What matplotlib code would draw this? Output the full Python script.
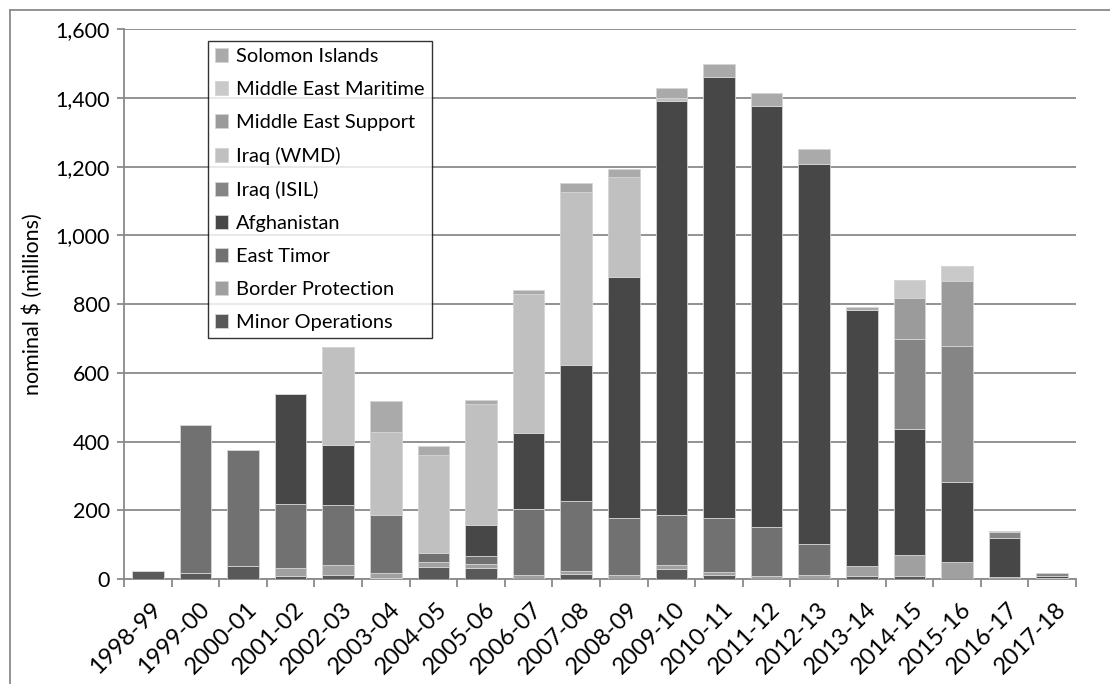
import matplotlib
matplotlib.use("Agg")
import matplotlib.pyplot as plt
import matplotlib.transforms as mtransforms
from matplotlib.lines import Line2D
from matplotlib.ticker import FuncFormatter, FixedLocator
import numpy as np

plt.rcParams['font.family'] = ['Lato', 'DejaVu Sans']

years = ["1998-99", "1999-00", "2000-01", "2001-02", "2002-03", "2003-04",
         "2004-05", "2005-06", "2006-07", "2007-08", "2008-09", "2009-10",
         "2010-11", "2011-12", "2012-13", "2013-14", "2014-15", "2015-16",
         "2016-17", "2017-18"]

# nominal $ millions, per operation (stacked bottom to top)
minor_operations = [22, 17, 39, 9, 12, 3, 36, 31, 0, 15, 0, 28, 12, 0, 0, 9, 9, 0, 0, 0]
border_protection = [0, 0, 0, 23, 29, 15, 13, 12, 12, 9, 12, 13, 8, 9, 12, 29, 60, 49, 5, 2]
east_timor = [0, 431, 336, 186, 174, 168, 26, 24, 193, 204, 166, 145, 157, 141, 90, 0, 0, 0, 0, 0]
afghanistan = [0, 0, 0, 321, 175, 0, 0, 90, 220, 395, 701, 1204, 1284, 1227, 1105, 745, 367, 234, 115, 6]
iraq_isil = [0, 0, 0, 0, 0, 0, 0, 0, 0, 0, 0, 0, 0, 0, 0, 0, 263, 394, 18, 9]
iraq_wmd = [0, 0, 0, 0, 285, 243, 286, 352, 404, 503, 292, 10, 0, 0, 0, 0, 0, 0, 0, 0]
middle_east_support = [0, 0, 0, 0, 0, 0, 0, 0, 0, 0, 0, 0, 0, 0, 0, 0, 118, 189, 3, 0]
middle_east_maritime = [0, 0, 0, 0, 0, 0, 0, 0, 0, 0, 0, 0, 0, 0, 0, 0, 52, 44, 0, 0]
solomon_islands = [0, 0, 0, 0, 0, 89, 27, 12, 12, 26, 23, 30, 38, 39, 46, 9, 0, 0, 0, 0]

series = [
    ("Minor Operations", minor_operations, "#595959"),
    ("Border Protection", border_protection, "#a0a0a0"),
    ("East Timor", east_timor, "#717171"),
    ("Afghanistan", afghanistan, "#474747"),
    ("Iraq (ISIL)", iraq_isil, "#858585"),
    ("Iraq (WMD)", iraq_wmd, "#c0c0c0"),
    ("Middle East Support", middle_east_support, "#9b9b9b"),
    ("Middle East Maritime", middle_east_maritime, "#c9c9c9"),
    ("Solomon Islands", solomon_islands, "#aaaaaa"),
]

W, H = 1110, 684
fig = plt.figure(figsize=(W / 100, H / 100), dpi=100)
ax = fig.add_axes([124 / W, 1 - 579 / H, (1076 - 124) / W, (579 - 29.3) / H])

x = np.arange(len(years))
bottom = np.zeros(len(years))
handles = []
for name, vals, color in series:
    v = np.array(vals, dtype=float)
    bars = ax.bar(x, v, width=0.66, bottom=bottom, color=color,
                  edgecolor="#d4d4d4", linewidth=0.6, label=name, zorder=3)
    handles.append(bars)
    bottom += v

grid_c = "#8a8a8a"
ax.set_ylim(0, 1600)
ax.set_xlim(-0.5, len(years) - 0.5)
ax.set_yticks(np.arange(0, 1601, 200))
ax.yaxis.set_major_formatter(FuncFormatter(lambda v, p: f"{int(v):,}"))
ax.yaxis.grid(True, color=grid_c, linewidth=1.3, zorder=0)
ax.set_axisbelow(True)

for s in ("top", "right"):
    ax.spines[s].set_visible(False)
for s in ("left", "bottom"):
    ax.spines[s].set_color(grid_c)
    ax.spines[s].set_linewidth(1.3)

ax.tick_params(axis="y", length=5, color=grid_c, width=1.3, labelsize=15.5, pad=5)
ax.set_xticks(x)
ax.set_xticklabels(years, rotation=45, ha="right", va="top", fontsize=17)
ax.tick_params(axis="x", which="major", length=0, pad=14)
ax.xaxis.set_minor_locator(FixedLocator(np.arange(-0.5, len(years), 1.0)))
ax.tick_params(axis="x", which="minor", length=6, color=grid_c, width=1.3)
shift = mtransforms.ScaledTranslation(18 / 100, 0, fig.dpi_scale_trans)
for lbl in ax.get_xticklabels():
    lbl.set_transform(lbl.get_transform() + shift)

ax.set_ylabel("nominal $ (millions)", fontsize=15.5, labelpad=9)

leg = ax.legend(handles[::-1], [s[0] for s in series][::-1],
                loc="upper left", bbox_to_anchor=((208 - 124) / 952, (579 - 41) / (579 - 29.3)),
                fontsize=14.4, frameon=True, fancybox=False, edgecolor="black",
                handlelength=0.65, handleheight=0.65, handletextpad=0.4,
                labelspacing=0.8, borderpad=0.35, borderaxespad=0)
leg.get_frame().set_linewidth(1.0)
leg.set_zorder(5)

# outer chart frame
fig.add_artist(Line2D([10 / W, 10 / W], [0, 1 - 10 / H], transform=fig.transFigure, color=grid_c, lw=1.3))
fig.add_artist(Line2D([10 / W, 1], [1 - 10 / H, 1 - 10 / H], transform=fig.transFigure, color=grid_c, lw=1.3))

fig.savefig("out.png", dpi=100)
